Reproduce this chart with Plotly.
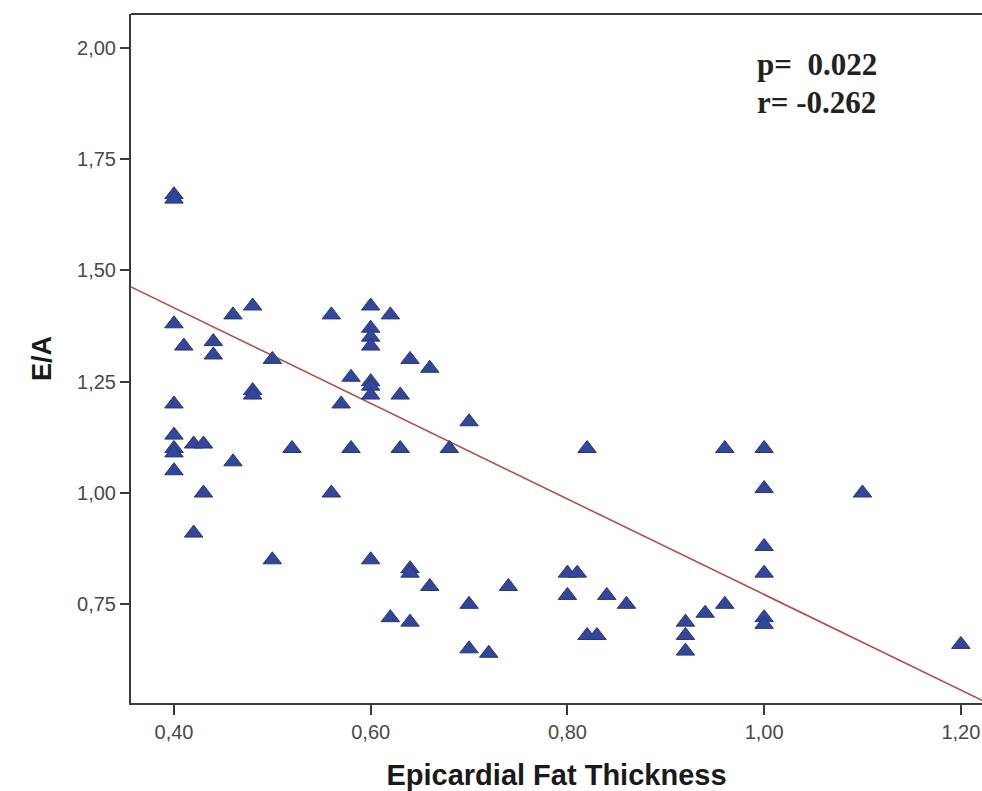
import plotly.graph_objects as go

# Epicardial fat thickness (x) vs E/A (y)
eft = [0.40, 0.40, 0.40, 0.40, 0.40, 0.40, 0.40, 0.40,
       0.41, 0.42, 0.42, 0.43, 0.43, 0.44, 0.44, 0.46, 0.46,
       0.48, 0.48, 0.48, 0.50, 0.50, 0.52, 0.56, 0.56, 0.57,
       0.58, 0.58, 0.60, 0.60, 0.60, 0.60, 0.60, 0.60, 0.60, 0.60,
       0.62, 0.62, 0.63, 0.63, 0.64, 0.64, 0.64, 0.64, 0.66, 0.66,
       0.68, 0.70, 0.70, 0.70, 0.72, 0.74, 0.80, 0.80, 0.81,
       0.82, 0.82, 0.83, 0.84, 0.86, 0.92, 0.92, 0.92, 0.94,
       0.96, 0.96, 1.00, 1.00, 1.00, 1.00, 1.00, 1.00, 1.10, 1.20]
ea = [1.67, 1.66, 1.38, 1.20, 1.13, 1.10, 1.09, 1.05,
      1.33, 0.91, 1.11, 1.11, 1.00, 1.34, 1.31, 1.40, 1.07,
      1.42, 1.23, 1.22, 1.30, 0.85, 1.10, 1.40, 1.00, 1.20,
      1.26, 1.10, 1.42, 1.37, 1.35, 1.33, 1.25, 1.24, 1.22, 0.85,
      1.40, 0.72, 1.22, 1.10, 1.30, 0.83, 0.82, 0.71, 1.28, 0.79,
      1.10, 1.16, 0.75, 0.65, 0.64, 0.79, 0.82, 0.77, 0.82,
      1.10, 0.68, 0.68, 0.77, 0.75, 0.71, 0.68, 0.645, 0.73,
      1.10, 0.75, 1.10, 1.01, 0.88, 0.82, 0.72, 0.705, 1.00, 0.66]

# Fit line
fit_intercept = 1.845
fit_slope = -1.073
fit_x = [0.3563, 1.2215]
fit_y = [fit_intercept + fit_slope * v for v in fit_x]

x_ticks = [0.40, 0.60, 0.80, 1.00, 1.20]
x_ticktext = ["0,40", "0,60", "0,80", "1,00", "1,20"]
y_ticks = [0.75, 1.00, 1.25, 1.50, 1.75, 2.00]
y_ticktext = ["0,75", "1,00", "1,25", "1,50", "1,75", "2,00"]

stats_lines = ["p=  0.022", "r= -0.262"]

fig = go.Figure()
fig.add_trace(go.Scatter(
    x=fit_x, y=fit_y, mode="lines",
    line=dict(color="#B24E4B", width=1.6),
    hoverinfo="skip", showlegend=False))
fig.add_trace(go.Scatter(
    x=eft, y=ea, mode="markers",
    marker=dict(symbol="triangle-up", size=16, color="#32479C",
                line=dict(color="#25367E", width=1)),
    showlegend=False))

axis_font = dict(family="Liberation Sans, Arial", size=20, color="#4a4a4a")
fig.update_layout(
    width=982, height=791,
    margin=dict(l=131, r=0, t=14, b=88),
    paper_bgcolor="white", plot_bgcolor="white",
    xaxis=dict(range=[0.3563, 1.2215], tickvals=x_ticks, ticktext=x_ticktext,
               automargin=False,
               showgrid=False, zeroline=False, showline=True,
               linecolor="#3a3a3a", linewidth=2, ticks="outside",
               ticklen=10, tickwidth=2, tickcolor="#3a3a3a",
               tickfont=axis_font,
               title=dict(text="<b>Epicardial Fat Thickness</b>",
                          font=dict(family="Liberation Sans, Arial", size=29, color="#1a1a1a"),
                          standoff=32)),
    yaxis=dict(range=[0.5284, 2.0757], tickvals=y_ticks, ticktext=y_ticktext,
               automargin=False,
               showgrid=False, zeroline=False, showline=True,
               linecolor="#3a3a3a", linewidth=2, ticks="outside",
               ticklen=9, tickwidth=2, tickcolor="#3a3a3a",
               tickfont=axis_font,
               title=dict(text="<b>E/A</b>",
                          font=dict(family="Liberation Sans, Arial", size=27, color="#1a1a1a"),
                          standoff=18)),
)
fig.add_shape(type="line", xref="paper", yref="paper", x0=0, x1=1, y0=1, y1=1,
              line=dict(color="#3a3a3a", width=2))
for i, txt in enumerate(stats_lines):
    fig.add_annotation(xref="paper", yref="paper", x=0.733, y=0.926 - i * 0.054,
                       xanchor="left", yanchor="middle", showarrow=False,
                       text="<b>" + txt + "</b>",
                       font=dict(family="Liberation Serif, Times New Roman", size=31, color="#222"))

fig.write_html("out.html",
               config={"displayModeBar": False},
               post_script="document.body.style.margin='0';"
                           "document.body.style.overflow='hidden';")
